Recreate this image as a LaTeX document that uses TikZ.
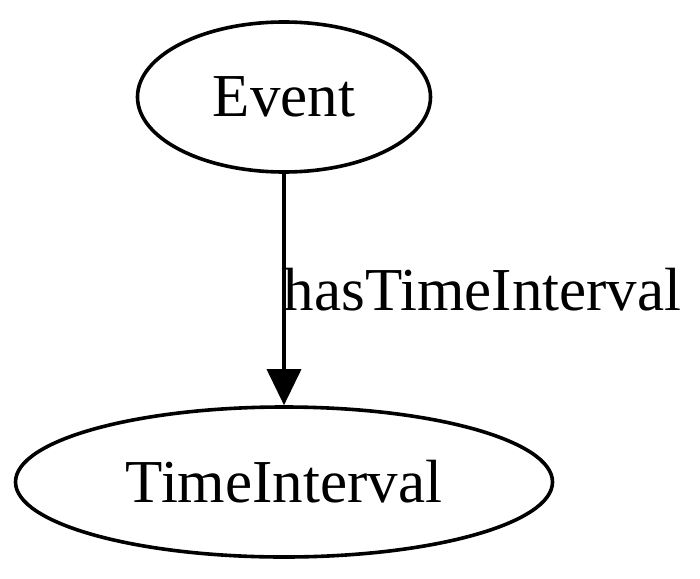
\documentclass[tikz,border=0pt]{standalone}
\usepackage{fontspec}
\setmainfont{Liberation Serif}
\usetikzlibrary{shapes.geometric,arrows.meta}
\begin{document}
\begin{tikzpicture}[x=1pt,y=-1pt,
  classnode/.style={ellipse,draw=black,line width=3.6pt,inner sep=0pt,minimum height=150pt,font=\fontsize{61}{73}\selectfont},
  edgelbl/.style={font=\fontsize{61}{73}\selectfont,inner sep=0pt}]
\useasboundingbox (0,0) rectangle (700,578);
\node[classnode,minimum width=293pt] (e) at (284,97) {Event};
\node[classnode,minimum width=537pt] (t) at (284,482) {TimeInterval};
\draw[line width=3.6pt,-{Triangle[length=36pt,width=34pt]}] (e) -- (t)
  node[edgelbl,pos=0.5,anchor=west,xshift=-2pt] (l) {hasTimeInterval};
\end{tikzpicture}
\end{document}
